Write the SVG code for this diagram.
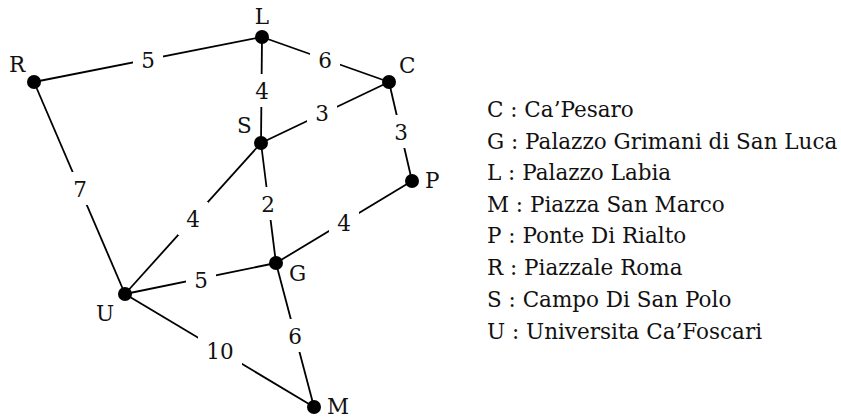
<svg xmlns="http://www.w3.org/2000/svg" width="841" height="419" viewBox="0 0 841 419">
<style>
text { font-family: "DejaVu Serif", "Liberation Serif", serif; font-size: 21.5px; fill: #111; }
.e { stroke: #000; stroke-width: 1.8; fill: none; }
.bg { fill: #fff; }
.n { fill: #000; }
.w { text-anchor: middle; }
</style>
<rect width="841" height="419" fill="#fff"/>
<g id="edges">
  <line class="e" x1="34" y1="82" x2="262" y2="37"/>
  <line class="e" x1="262" y1="37" x2="389" y2="82"/>
  <line class="e" x1="262" y1="37" x2="261" y2="143"/>
  <line class="e" x1="261" y1="143" x2="389" y2="82"/>
  <line class="e" x1="389" y1="82" x2="412" y2="181"/>
  <line class="e" x1="34" y1="82" x2="125" y2="294"/>
  <line class="e" x1="261" y1="143" x2="125" y2="294"/>
  <line class="e" x1="261" y1="143" x2="276" y2="263"/>
  <line class="e" x1="412" y1="181" x2="276" y2="263"/>
  <line class="e" x1="125" y1="294" x2="276" y2="263"/>
  <line class="e" x1="276" y1="263" x2="314" y2="407"/>
  <line class="e" x1="125" y1="294" x2="314" y2="407"/>
  <g id="edge-labels">
    <rect class="bg" x="133" y="43" width="30" height="33"/><text class="w" x="148" y="68">5</text>
    <rect class="bg" x="310" y="43" width="30" height="33"/><text class="w" x="325" y="68">6</text>
    <rect class="bg" x="247" y="74" width="30" height="33"/><text class="w" x="262" y="99">4</text>
    <rect class="bg" x="307" y="96" width="30" height="33"/><text class="w" x="322" y="121">3</text>
    <rect class="bg" x="386" y="115" width="30" height="33"/><text class="w" x="401" y="140">3</text>
    <rect class="bg" x="65" y="172" width="30" height="33"/><text class="w" x="80" y="197">7</text>
    <rect class="bg" x="178" y="202" width="30" height="33"/><text class="w" x="193" y="227">4</text>
    <rect class="bg" x="253" y="187" width="30" height="33"/><text class="w" x="268" y="212">2</text>
    <rect class="bg" x="329" y="206" width="30" height="33"/><text class="w" x="344" y="231">4</text>
    <rect class="bg" x="186" y="263" width="30" height="33"/><text class="w" x="201" y="288">5</text>
    <rect class="bg" x="280" y="319" width="30" height="33"/><text class="w" x="295" y="344">6</text>
    <rect class="bg" x="198" y="334" width="44" height="33"/><text class="w" x="220" y="359">10</text>
  </g>
</g>
<g id="node-L"><circle class="n" cx="262" cy="37" r="7"/><text class="w" x="262" y="24">L</text></g>
<g id="node-R"><circle class="n" cx="34" cy="82" r="7"/><text x="9" y="72">R</text></g>
<g id="node-C"><circle class="n" cx="389" cy="82" r="7"/><text x="399" y="73">C</text></g>
<g id="node-S"><circle class="n" cx="261" cy="143" r="7"/><text x="237" y="133">S</text></g>
<g id="node-P"><circle class="n" cx="412" cy="181" r="7"/><text x="425" y="188">P</text></g>
<g id="node-G"><circle class="n" cx="276" cy="263" r="7"/><text x="289" y="281">G</text></g>
<g id="node-U"><circle class="n" cx="125" cy="294" r="7"/><text x="96" y="321">U</text></g>
<g id="node-M"><circle class="n" cx="314" cy="407" r="7"/><text x="327" y="414">M</text></g>
<g id="legend">
  <text x="487" y="117">C : Ca’Pesaro</text>
  <text x="487" y="149">G : Palazzo Grimani di San Luca</text>
  <text x="487" y="180">L : Palazzo Labia</text>
  <text x="487" y="212">M : Piazza San Marco</text>
  <text x="487" y="243">P : Ponte Di Rialto</text>
  <text x="487" y="275">R : Piazzale Roma</text>
  <text x="487" y="307">S : Campo Di San Polo</text>
  <text x="487" y="339">U : Universita Ca’Foscari</text>
</g>
</svg>
